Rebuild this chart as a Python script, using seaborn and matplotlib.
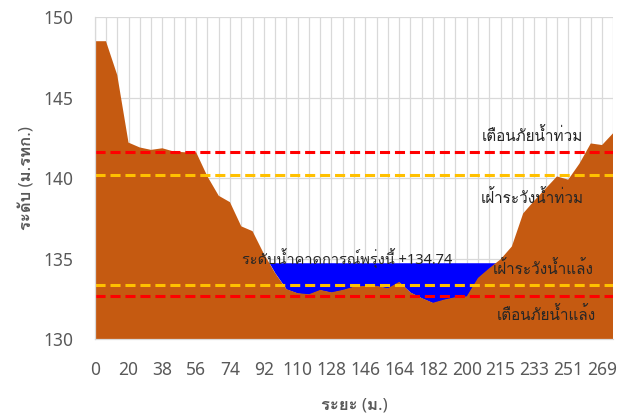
import numpy as np
import pandas as pd
import matplotlib
matplotlib.use("Agg")
import matplotlib.pyplot as plt
from matplotlib import font_manager
from matplotlib.ft2font import FT2Font
import seaborn as sns

# cross-section data (distance labels are categories, every 3rd one shown)
distance = ["0", "7", "13", "20", "26", "32", "38", "44", "50", "56", "62", "68",
            "74", "80", "86", "92", "98", "104", "110", "116", "122", "128", "134",
            "140", "146", "152", "158", "164", "170", "176", "182", "188", "194",
            "200", "205", "210", "215", "221", "227", "233", "239", "245", "251",
            "257", "263", "269", "275"]
elevation = [148.5, 148.5, 146.4, 142.2, 141.9, 141.75, 141.85, 141.65, 141.6, 141.6,
             140.1, 138.9, 138.5, 137.0, 136.7, 135.3, 134.1, 133.1, 132.85, 132.78,
             133.05, 132.9, 133.05, 133.25, 133.3, 133.3, 133.15, 133.55, 132.9, 132.55,
             132.25, 132.45, 132.6, 132.65, 133.8, 134.4, 134.95, 135.75, 137.8, 138.6,
             139.35, 140.1, 139.9, 140.9, 142.15, 142.05, 142.8]
water_level = 134.74

level_names = ["เตือนภัยน้ำท่วม", "เฝ้าระวังน้ำท่วม", "เฝ้าระวังน้ำแล้ง", "เตือนภัยน้ำแล้ง"]
level_values = [141.6, 140.2, 133.35, 132.7]
level_colors = ["#FF0000", "#FFC000", "#FFC000", "#FF0000"]


def find_thai_font():
    for f in font_manager.fontManager.ttflist:
        try:
            if 0x0E01 in FT2Font(f.fname).get_charmap():
                return f.name
        except Exception:
            pass
    return None


sns.set_style("white")
thai = find_thai_font()
plt.rcParams['font.family'] = ['Noto Sans'] + ([thai] if thai else []) + ['DejaVu Sans']

grey = "#595959"
grid_c = "#d9d9d9"

fig = plt.figure(figsize=(6.23, 4.16), dpi=100)
ax = fig.add_axes([0.152, 0.185, 0.8325, 0.774])

df = pd.DataFrame({"idx": np.arange(len(distance)), "distance": distance, "elev": elevation})
x = df["idx"].to_numpy()
elev = df["elev"].to_numpy()

# water surface, then ground on top
ax.fill_between(x, elev, water_level, where=elev < water_level, interpolate=True,
                color="#0000FF", lw=0, zorder=2)
ax.fill_between(x, 0, elev, color="#C55A11", lw=0, zorder=3)

# threshold lines
lines = pd.DataFrame({
    "idx": np.tile([x[0], x[-1]], len(level_names)),
    "level": np.repeat(level_values, 2),
    "name": np.repeat(level_names, 2),
})
sns.lineplot(data=lines, x="idx", y="level", hue="name", style="name",
             palette=dict(zip(level_names, level_colors)),
             dashes={n: (3.3, 1.6) for n in level_names},
             lw=2.2, legend=False, ax=ax, zorder=4)

# labels
text_c = "#262626"
fs = 11
ax.text(38.8, 142.55, level_names[0], ha="center", va="center", fontsize=fs, color=text_c, zorder=5)
ax.text(38.8, 138.76, level_names[1], ha="center", va="center", fontsize=fs, color=text_c, zorder=5)
ax.text(39.75, 134.29, level_names[2], ha="center", va="center", fontsize=fs, color=text_c, zorder=5)
ax.text(40.1, 131.49, level_names[3], ha="center", va="center", fontsize=fs, color=text_c, zorder=5)
ax.text(13.05, 134.95, f"ระดับน้ำคาดการณ์พรุ่งนี้ +{water_level:.2f}", ha="left", va="center",
        fontsize=10.5, color=text_c, zorder=5)

# axes styling
ax.set_xlim(0, len(distance) - 1)
ax.set_ylim(130, 150)
ax.set_xticks(x)
ax.set_xticklabels([d if i % 3 == 0 else "" for i, d in enumerate(distance)])
ax.set_yticks([130, 135, 140, 145, 150])
ax.grid(True, color=grid_c, lw=0.9)
ax.set_axisbelow(True)
ax.tick_params(axis="both", colors=grid_c, labelcolor=grey, labelsize=12.5,
               length=5, width=0.9, direction="out")
ax.tick_params(axis="x", pad=11)
ax.tick_params(axis="y", pad=10)
for lab in ax.get_xticklabels() + ax.get_yticklabels():
    lab.set_fontweight("light")
for s in ["top", "right"]:
    ax.spines[s].set_visible(False)
for s in ["left", "bottom"]:
    ax.spines[s].set_color(grid_c)
    ax.spines[s].set_linewidth(0.9)
    ax.spines[s].set_zorder(6)

ax.set_xlabel("ระยะ (ม.)", fontsize=12, fontweight="bold", color=grey, labelpad=13)
ax.set_ylabel("ระดับ (ม.รทก.)", fontsize=12, fontweight="bold", color=grey, labelpad=6)

fig.savefig("out.png", dpi=100)
